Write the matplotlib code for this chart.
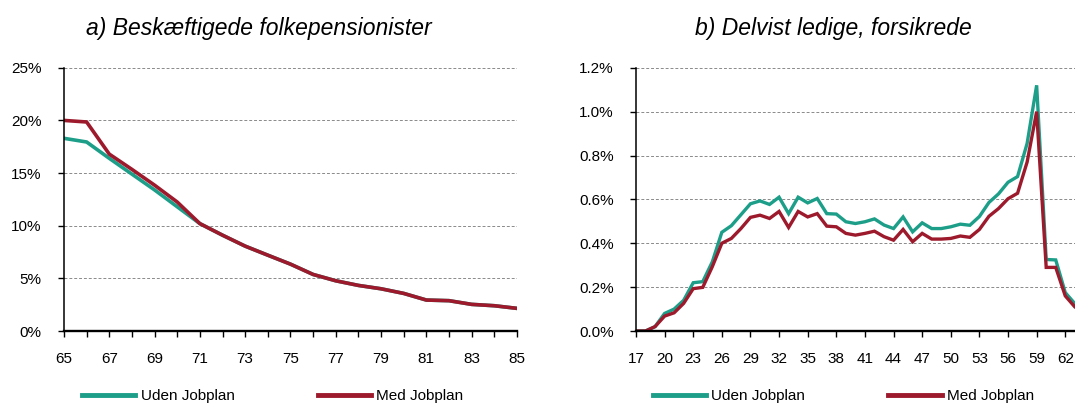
import matplotlib.pyplot as plt
import numpy as np
from matplotlib.ticker import FuncFormatter

plt.rcParams["font.family"] = ["Liberation Sans", "DejaVu Sans"]

GREEN = "#1c9e89"
RED = "#9c1a2c"

# ---------------------------------------------------------------------------
# data (percent)
# ---------------------------------------------------------------------------
ages_a = list(range(65, 86))
uden_a = [18.3, 17.95, 16.4, 14.9, 13.4, 11.8, 10.2, 9.1, 8.06, 7.2, 6.35,
          5.37, 4.77, 4.33, 4.01, 3.57, 2.94, 2.88, 2.53, 2.40, 2.15]
med_a = [20.0, 19.85, 16.8, 15.35, 13.85, 12.25, 10.2, 9.1, 8.06, 7.2, 6.35,
         5.37, 4.77, 4.33, 4.01, 3.57, 2.94, 2.88, 2.53, 2.40, 2.15]

ages_b = list(range(17, 65))
uden_b = [0.0, 0.0, 0.02, 0.08, 0.10, 0.14, 0.22, 0.225, 0.315, 0.45,
          0.48, 0.53, 0.58, 0.593, 0.577, 0.61, 0.535, 0.61, 0.584, 0.604,
          0.535, 0.533, 0.498, 0.49, 0.498, 0.511, 0.483, 0.467, 0.52, 0.452,
          0.493, 0.467, 0.467, 0.475, 0.487, 0.482, 0.522, 0.586, 0.625, 0.678,
          0.704, 0.855, 1.12, 0.326, 0.324, 0.175, 0.125, 0.09]
med_b = [0.0, 0.0, 0.02, 0.068, 0.083, 0.126, 0.193, 0.199, 0.293, 0.40,
         0.422, 0.467, 0.518, 0.528, 0.513, 0.545, 0.472, 0.545, 0.52, 0.535,
         0.478, 0.475, 0.445, 0.437, 0.445, 0.455, 0.43, 0.414, 0.463, 0.407,
         0.445, 0.419, 0.419, 0.422, 0.433, 0.427, 0.463, 0.523, 0.558, 0.603,
         0.628, 0.77, 1.0, 0.29, 0.29, 0.16, 0.11, 0.08]

a_labels = [str(a) if a % 2 == 1 else "" for a in ages_a]
b_ticks = list(range(17, 63, 3))


def style_axes(ax):
    for side in ("top", "right"):
        ax.spines[side].set_visible(False)
    ax.spines["left"].set_linewidth(1.1)
    ax.spines["bottom"].set_linewidth(1.7)
    ax.grid(axis="y", color="#8a8a8a", linestyle=(0, (3, 2)), linewidth=0.7)
    ax.set_axisbelow(True)
    ax.tick_params(axis="both", direction="out", length=4, width=1.0,
                   labelsize=11, colors="black")
    ax.tick_params(axis="x", pad=11)
    ax.tick_params(axis="y", pad=12)


fig = plt.figure(figsize=(10.75, 4.05), dpi=100)

# ---------------------------------------------------------------------------
# a) Beskæftigede folkepensionister
# ---------------------------------------------------------------------------
ax1 = fig.add_axes([0.0595, 0.1827, 0.4214, 0.650])
ax1.plot(ages_a, uden_a, color=GREEN, lw=2.6, label="Uden Jobplan",
         solid_joinstyle="miter")
ax1.plot(ages_a, med_a, color=RED, lw=2.6, label="Med Jobplan",
         solid_joinstyle="miter")
ax1.set_xlim(65, 85)
ax1.set_ylim(0, 25)
ax1.set_yticks(np.arange(0, 26, 5))
ax1.yaxis.set_major_formatter(FuncFormatter(lambda v, p: f"{v:.0f}%"))
ax1.set_xticks(ages_a)
ax1.set_xticklabels(a_labels)
style_axes(ax1)

# ---------------------------------------------------------------------------
# b) Delvist ledige, forsikrede  (axis runs past the right edge)
# ---------------------------------------------------------------------------
ax2 = fig.add_axes([0.5916, 0.1827, 0.4171, 0.650])
ax2.plot(ages_b, uden_b, color=GREEN, lw=2.4, label="Uden Jobplan",
         solid_joinstyle="miter")
ax2.plot(ages_b, med_b, color=RED, lw=2.4, label="Med Jobplan",
         solid_joinstyle="miter")
ax2.set_xlim(17, 64)
ax2.set_ylim(0, 1.2)
ax2.set_yticks(np.arange(0, 1.21, 0.2))
ax2.yaxis.set_major_formatter(FuncFormatter(lambda v, p: f"{v:.1f}%"))
ax2.set_xticks(b_ticks)
style_axes(ax2)

fig.text(0.241, 0.930, "a) Beskæftigede folkepensionister", fontsize=16.5,
         style="italic", ha="center", va="center")
fig.text(0.775, 0.930, "b) Delvist ledige, forsikrede", fontsize=16.5,
         style="italic", ha="center", va="center")

legend_kw = dict(loc="center left", ncol=2, frameon=False, fontsize=11,
                 handlelength=3.5, handletextpad=0.35, columnspacing=5.45,
                 borderpad=0, borderaxespad=0)
fig.legend(*ax1.get_legend_handles_labels(), bbox_to_anchor=(0.076, 0.022),
           **legend_kw)
fig.legend(*ax2.get_legend_handles_labels(), bbox_to_anchor=(0.607, 0.022),
           **legend_kw)
for leg in fig.legends:
    for h in leg.legend_handles:
        h.set_linewidth(3.5)

fig.savefig("out.png", dpi=100)
